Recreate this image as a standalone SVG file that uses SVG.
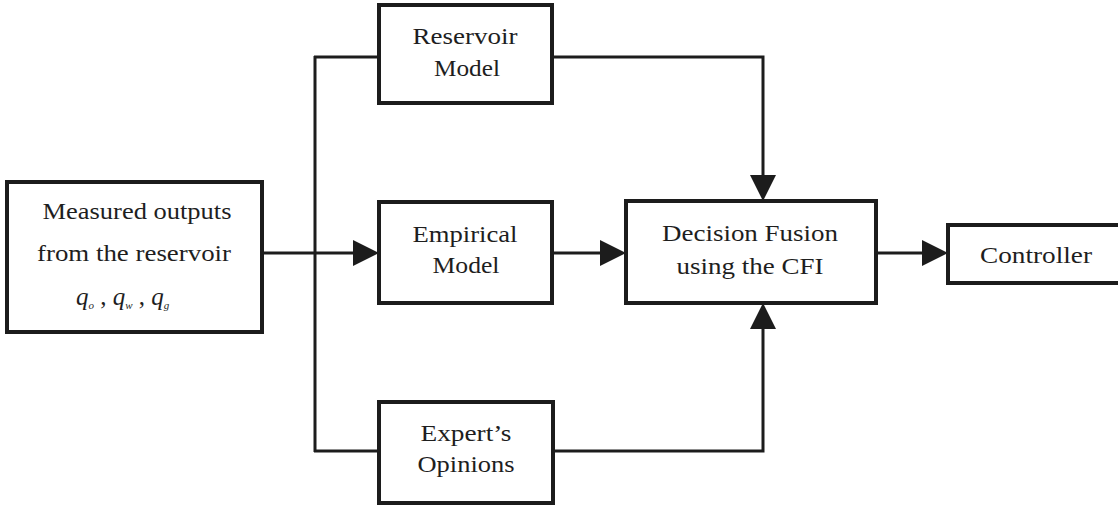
<svg xmlns="http://www.w3.org/2000/svg" width="1118" height="505" viewBox="0 0 1118 505">
  <style>
    .box { fill: #ffffff; stroke: #1c1c1c; stroke-width: 4; }
    .wire { fill: none; stroke: #1c1c1c; stroke-width: 3; }
    .lbl { font-family: "Liberation Serif", "Times New Roman", serif; font-size: 23px; fill: #1e1e1e; text-anchor: middle; }
    .var { font-family: "Liberation Serif", "Times New Roman", serif; font-style: italic; font-size: 25px; fill: #1e1e1e; }
    .sub { font-size: 11px; }
  </style>
  <defs>
    <marker id="head" markerUnits="userSpaceOnUse" markerWidth="27" markerHeight="27" refX="0" refY="13" orient="auto">
      <path d="M0,0 L26,13 L0,26 Z" fill="#1c1c1c"/>
    </marker>
  </defs>
  <rect width="1118" height="505" fill="#ffffff"/>

  <!-- connectors -->
  <g id="connectors">
    <!-- measured outputs into the distribution bus -->
    <line class="wire" x1="262" y1="253" x2="353" y2="253" marker-end="url(#head)"/>
    <line class="wire" x1="315" y1="56" x2="315" y2="452"/>
    <line class="wire" x1="314" y1="57" x2="379" y2="57"/>
    <line class="wire" x1="314" y1="451" x2="379" y2="451"/>
    <!-- model outputs into decision fusion -->
    <polyline class="wire" points="552,57 763,57 763,175" marker-end="url(#head)"/>
    <line class="wire" x1="552" y1="253" x2="600" y2="253" marker-end="url(#head)"/>
    <polyline class="wire" points="553,451 763,451 763,329" marker-end="url(#head)"/>
    <!-- fused decision to controller -->
    <line class="wire" x1="876" y1="253" x2="922" y2="253" marker-end="url(#head)"/>
  </g>

  <g id="measured">
    <rect class="box" x="7" y="182" width="255" height="150"/>
    <text class="lbl" x="137" y="219" textLength="189" lengthAdjust="spacingAndGlyphs">Measured outputs</text>
    <text class="lbl" x="134" y="261" textLength="194" lengthAdjust="spacingAndGlyphs">from the reservoir</text>
    <text class="var" x="76" y="305">q<tspan class="sub" dy="4">o</tspan><tspan dy="-4" font-style="normal"> , </tspan>q<tspan class="sub" dy="4">w</tspan><tspan dy="-4" font-style="normal"> , </tspan>q<tspan class="sub" dy="4">g</tspan></text>
  </g>

  <g id="reservoir-model">
    <rect class="box" x="379" y="5" width="173" height="98"/>
    <text class="lbl" x="465" y="44" textLength="105" lengthAdjust="spacingAndGlyphs">Reservoir</text>
    <text class="lbl" x="467" y="76" textLength="66" lengthAdjust="spacingAndGlyphs">Model</text>
  </g>

  <g id="empirical-model">
    <rect class="box" x="379" y="202" width="173" height="101"/>
    <text class="lbl" x="465" y="242" textLength="105" lengthAdjust="spacingAndGlyphs">Empirical</text>
    <text class="lbl" x="466" y="273" textLength="67" lengthAdjust="spacingAndGlyphs">Model</text>
  </g>

  <g id="experts-opinions">
    <rect class="box" x="379" y="402" width="174" height="101"/>
    <text class="lbl" x="466" y="441" textLength="91" lengthAdjust="spacingAndGlyphs">Expert’s</text>
    <text class="lbl" x="466" y="472" textLength="97" lengthAdjust="spacingAndGlyphs">Opinions</text>
  </g>

  <g id="decision-fusion">
    <rect class="box" x="626" y="201" width="250" height="102"/>
    <text class="lbl" x="750" y="241" textLength="176" lengthAdjust="spacingAndGlyphs">Decision Fusion</text>
    <text class="lbl" x="750" y="274" textLength="147" lengthAdjust="spacingAndGlyphs">using the CFI</text>
  </g>

  <g id="controller">
    <rect class="box" x="948" y="225" width="185" height="58"/>
    <text class="lbl" x="1036" y="263" textLength="112" lengthAdjust="spacingAndGlyphs">Controller</text>
  </g>
</svg>
